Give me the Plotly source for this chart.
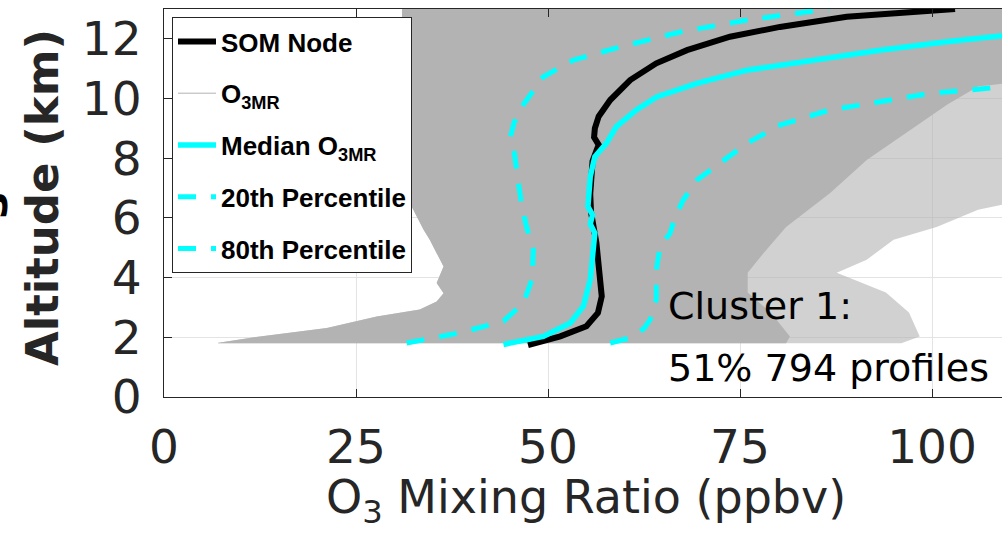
import plotly.graph_objects as go

# ---------------- data ----------------
# SOM node profile (black)
som_alt = [1.74, 2.03, 2.37, 2.82, 3.37, 4.26, 5.17, 5.6, 6.2, 6.8, 7.4, 7.9, 8.25, 8.45,
           8.7, 9.0, 9.4, 9.95, 10.62, 11.18, 11.62, 12.07, 12.40, 12.74, 13.0]
som_o3 = [47.4, 51.6, 55.0, 56.5, 57.0, 56.7, 56.3, 56.0, 55.6, 55.5, 55.6, 55.8, 56.3, 56.6,
          56.0, 56.1, 56.6, 58.1, 60.7, 64.1, 68.1, 73.7, 80.2, 88.9, 103.0]

# Median O3MR (cyan solid)
med_alt = [1.76, 2.03, 2.48, 3.04, 3.93, 5.04, 5.49, 5.8, 6.1, 6.38, 7.0, 7.38, 8.05, 8.5,
           9.06, 9.62, 10.06, 10.51, 10.95, 11.29, 11.62, 11.9, 12.07, 12.3]
med_o3 = [44.2, 49.4, 52.9, 54.6, 55.5, 55.9, 56.1, 55.5, 55.8, 55.2, 55.3, 55.5, 56.1, 57.6,
          58.9, 61.5, 64.2, 69.4, 75.9, 84.5, 93.2, 101.9, 108.9, 116.0]

# 20th percentile (cyan dashed, left)
p20_alt = [1.81, 2.15, 2.54, 3.15, 3.93, 4.93, 5.71, 6.38, 7.27, 8.39, 8.72, 9.2, 9.73,
           10.73, 11.29, 11.73, 12.23, 12.63, 13.0]
p20_o3 = [31.6, 38.5, 44.2, 46.8, 47.9, 48.1, 47.2, 46.6, 46.1, 45.5, 45.1, 45.6, 46.6,
          49.4, 53.3, 59.4, 67.2, 75.9, 86.5]

# 80th percentile (cyan dashed, right)
p80_alt = [1.81, 1.98, 2.3, 2.59, 3.26, 4.26, 5.04, 5.49, 6.0, 6.6, 7.27, 7.83, 8.5, 9.11,
           9.62, 9.89, 10.17, 10.38, 10.45]
p80_o3 = [58.1, 60.7, 62.5, 63.3, 64.1, 64.1, 64.6, 65.9, 66.5, 67.6, 69.4, 72.4, 75.9, 80.2,
          86.7, 93.2, 99.7, 108.9, 116.0]

# Envelope of the 794 individual O3MR profiles (grey cloud)
env_left_alt = [1.8, 1.82, 2.03, 2.31, 2.7, 2.93, 3.2, 3.48, 3.82, 4.37, 4.82, 5.27, 5.6,
                7.0, 10.0, 12.5, 13.0]
env_left_o3 = [7.0, 7.1, 12.5, 21.2, 27.7, 33.3, 35.5, 36.4, 35.5, 36.4, 35.5, 34.6, 33.8,
               31.0, 30.0, 31.0, 31.0]
core_right_alt = [1.8, 2.03, 2.83, 3.5, 4.16, 4.8, 5.7, 6.83, 7.94, 9.0, 9.8, 10.4, 10.7, 13.0]
core_right_o3 = [81.0, 81.5, 79.0, 76.0, 76.0, 78.0, 81.0, 86.7, 91.5, 97.5, 102.0, 106.0, 116.0, 116.0]
fringe_right_alt = [1.8, 2.03, 2.83, 3.5, 4.16, 4.6, 5.27, 5.7, 6.27, 6.83, 13.0]
fringe_right_o3 = [96.0, 98.4, 97.0, 94.0, 87.6, 91.5, 95.0, 100.6, 106.0, 116.0, 116.0]

x_ticks = [0, 25, 50, 75, 100]
y_ticks = [0, 2, 4, 6, 8, 10, 12]

# ---------------- figure ----------------
AX = "#262626"
GREY = "#b3b3b3"
CYAN = "#00ffff"
TICKFONT = "DejaVu Sans"

fig = go.Figure()

# outer (sparse) part of the profile cloud
fig.add_trace(go.Scatter(
    x=env_left_o3 + fringe_right_o3[::-1],
    y=env_left_alt + fringe_right_alt[::-1],
    mode="lines", fill="toself", fillcolor="rgba(179,179,179,0.6)",
    line=dict(width=0, color="rgba(179,179,179,0)"),
    showlegend=False, hoverinfo="skip"))
# dense core of the profile cloud
fig.add_trace(go.Scatter(
    x=env_left_o3 + core_right_o3[::-1],
    y=env_left_alt + core_right_alt[::-1],
    mode="lines", fill="toself", fillcolor=GREY,
    line=dict(width=0, color="rgba(179,179,179,0)"),
    showlegend=False, hoverinfo="skip"))

# legend entry for the individual profiles
fig.add_trace(go.Scatter(
    x=[None], y=[None], mode="lines", name="O<sub>3MR</sub>",
    line=dict(color=GREY, width=1), legendgroup="g2", legendrank=2))

fig.add_trace(go.Scatter(
    x=som_o3, y=som_alt, mode="lines", name="SOM Node",
    line=dict(color="black", width=6), legendgroup="g1", legendrank=1))
fig.add_trace(go.Scatter(
    x=med_o3, y=med_alt, mode="lines", name="Median O<sub>3MR</sub>",
    line=dict(color=CYAN, width=5.5), legendgroup="g3", legendrank=3))
fig.add_trace(go.Scatter(
    x=p20_o3, y=p20_alt, mode="lines", name="20th Percentile",
    line=dict(color=CYAN, width=5, dash="18px,15px"), legendgroup="g4", legendrank=4))
fig.add_trace(go.Scatter(
    x=p80_o3, y=p80_alt, mode="lines", name="80th Percentile",
    line=dict(color=CYAN, width=5, dash="18px,15px"), legendgroup="g5", legendrank=5))

L, R, T, B = 164, 0, 9, 140
W, H = 1002, 537
PW, PH = W - L - R, H - T - B


def px_x(p):
    return (p - L) / PW


def px_y(p):
    return (H - B - p) / PH


fig.update_layout(
    width=W, height=H, autosize=False,
    margin=dict(l=L, r=R, t=T, b=B, pad=0),
    paper_bgcolor="white", plot_bgcolor="white",
    showlegend=True,
    legend=dict(
        x=px_x(172), y=px_y(17), xanchor="left", yanchor="top",
        bgcolor="white", bordercolor=AX, borderwidth=1,
        font=dict(family="Liberation Sans", size=26, color="black", weight="bold"),
        tracegroupgap=15, itemwidth=38, traceorder="grouped"),
    xaxis=dict(
        range=[0, PW / 7.68], tickvals=x_ticks, ticktext=[str(v) for v in x_ticks],
        ticks="inside", ticklen=8, tickcolor=AX, showline=True, linecolor=AX, linewidth=1,
        mirror="ticks", showgrid=True, gridcolor="#e3e3e3", gridwidth=1, zeroline=False,
        tickfont=dict(family=TICKFONT, size=47, color=AX), ticklabelstandoff=9),
    yaxis=dict(
        range=[0, 13], tickvals=y_ticks, ticktext=[str(v) for v in y_ticks],
        ticks="inside", ticklen=8, tickcolor=AX, showline=True, linecolor=AX, linewidth=1,
        mirror=False, showgrid=True, gridcolor="#e3e3e3", gridwidth=1, zeroline=False,
        tickfont=dict(family=TICKFONT, size=47, color=AX), ticklabelstandoff=12),
    annotations=[
        dict(text="Altitude (km)", xref="paper", yref="paper", x=px_x(42), y=px_y(198),
             xanchor="center", yanchor="middle", textangle=-90, showarrow=False,
             font=dict(family=TICKFONT, size=45, color=AX, weight="bold")),
        dict(text="s", xref="paper", yref="paper", x=px_x(-9), y=px_y(206),
             xanchor="center", yanchor="middle", textangle=-90, showarrow=False,
             font=dict(family=TICKFONT, size=45, color="black", weight="bold")),
        dict(text="O<sub>3</sub> Mixing Ratio (ppbv)", xref="paper", yref="paper",
             x=px_x(586), y=px_y(468), xanchor="center", yanchor="top", showarrow=False,
             font=dict(family=TICKFONT, size=46, color=AX)),
        dict(text="Cluster 1:", xref="paper", yref="paper", x=px_x(666), y=px_y(306),
             xanchor="left", yanchor="middle", showarrow=False,
             font=dict(family=TICKFONT, size=38, color="black")),
        dict(text="51% 794 profiles", xref="paper", yref="paper", x=px_x(666), y=px_y(368),
             xanchor="left", yanchor="middle", showarrow=False,
             font=dict(family=TICKFONT, size=38, color="black")),
    ],
)

fig.write_html("out.html")
